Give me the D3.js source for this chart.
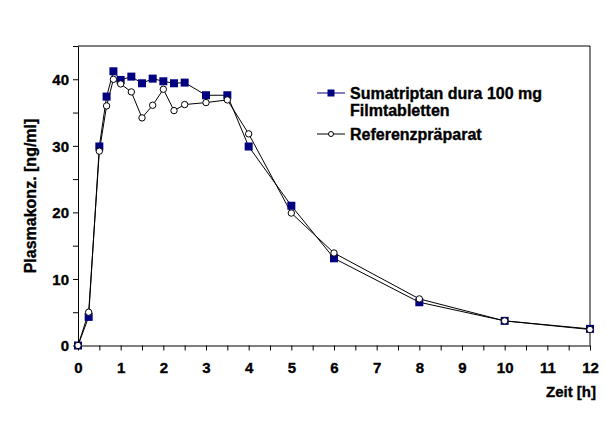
<!DOCTYPE html>
<html>
<head>
<meta charset="utf-8">
<script src="https://cdn.jsdelivr.net/npm/d3@7"></script>
<style>
  body { margin: 0; background: #fff; }
  text { font-family: "Liberation Sans", Arial, sans-serif; font-weight: bold; stroke: #000; stroke-width: 0.35px; }
</style>
</head>
<body>
<div id="chart"></div>
<script>
// time points [h]
var times = [0, 0.25, 0.5, 0.67, 0.83, 1, 1.25, 1.5, 1.75, 2, 2.25, 2.5, 3, 3.5, 4, 5, 6, 8, 10, 12];
// Sumatriptan dura 100 mg Filmtabletten
var testValues = [0, 4.3, 29.9, 37.4, 41.2, 39.9, 40.4, 39.4, 40.1, 39.7, 39.4, 39.5, 37.6, 37.6, 29.9, 21.0, 13.1, 6.5, 3.7, 2.5];
// Referenzpräparat
var refValues = [0, 5.0, 29.2, 36.0, 40.0, 39.3, 38.1, 34.2, 36.1, 38.5, 35.3, 36.2, 36.5, 36.9, 31.8, 19.9, 13.9, 7.0, 3.7, 2.4];

var xTicks = [0, 1, 2, 3, 4, 5, 6, 7, 8, 9, 10, 11, 12];
var yTicks = [0, 10, 20, 30, 40];
var legendLabels = [["Sumatriptan dura 100 mg", "Filmtabletten"], ["Referenzpräparat"]];

var W = 606, H = 427;
var plotL = 78, plotR = 590, plotT = 46, plotB = 345.5;

var svg = d3.select("#chart").append("svg")
  .attr("width", W).attr("height", H)
  .style("display", "block");

var x = d3.scaleLinear().domain([0, 12]).range([plotL, plotR]);
var y = d3.scaleLinear().domain([0, 45]).range([plotB, plotT]);

// plot border (top + right)
svg.append("path")
  .attr("d", "M" + plotL + "," + plotT + "H" + plotR + "V" + plotB)
  .attr("fill", "none").attr("stroke", "#000").attr("stroke-width", 1);

// x axis: minor ticks every 0.5 h, labels on whole hours
var xAxis = svg.append("g").attr("transform", "translate(0," + plotB + ")");
xAxis.call(d3.axisBottom(x).tickValues(d3.range(0, 12.01, 0.5)).tickSize(5).tickSizeOuter(0).tickFormat(""));
xAxis.selectAll(".tick text").remove();
xAxis.selectAll(".tick")
  .filter(function(d) { return xTicks.indexOf(d) >= 0; })
  .append("text")
  .attr("y", 27).attr("text-anchor", "middle")
  .attr("fill", "#000").attr("font-size", 15)
  .text(function(d) { return d; });

// y axis: minor ticks every 5, labels every 10
var yAxis = svg.append("g").attr("transform", "translate(" + plotL + ",0)");
yAxis.call(d3.axisLeft(y).tickValues(d3.range(0, 45.1, 5)).tickSize(5).tickSizeOuter(0).tickFormat(""));
yAxis.selectAll(".tick text").remove();
yAxis.selectAll(".tick")
  .filter(function(d) { return yTicks.indexOf(d) >= 0; })
  .append("text")
  .attr("x", -9).attr("dy", "0.36em").attr("text-anchor", "end")
  .attr("fill", "#000").attr("font-size", 15)
  .text(function(d) { return d; });

svg.selectAll(".domain").attr("stroke", "#000");
svg.selectAll(".tick line").attr("stroke", "#000");

// axis titles
svg.append("text")
  .attr("transform", "translate(36,196) rotate(-90)")
  .attr("text-anchor", "middle").attr("font-size", 16)
  .text("Plasmakonz. [ng/ml]");
svg.append("text")
  .attr("x", 596).attr("y", 397).attr("text-anchor", "end").attr("font-size", 15)
  .text("Zeit [h]");

var line = d3.line()
  .x(function(d) { return x(d[0]); })
  .y(function(d) { return y(d[1]); });

var testData = times.map(function(t, i) { return [t, testValues[i]]; });
var refData = times.map(function(t, i) { return [t, refValues[i]]; });

svg.append("path").datum(testData).attr("d", line)
  .attr("fill", "none").attr("stroke", "#000").attr("stroke-width", 1);
svg.append("path").datum(refData).attr("d", line)
  .attr("fill", "none").attr("stroke", "#000").attr("stroke-width", 1);

var S = 8;
svg.selectAll("rect.test").data(testData).enter().append("rect")
  .attr("class", "test")
  .attr("x", function(d) { return x(d[0]) - S / 2; })
  .attr("y", function(d) { return y(d[1]) - S / 2; })
  .attr("width", S).attr("height", S)
  .attr("fill", "#000080");

svg.selectAll("circle.ref").data(refData).enter().append("circle")
  .attr("class", "ref")
  .attr("cx", function(d) { return x(d[0]); })
  .attr("cy", function(d) { return y(d[1]); })
  .attr("r", 3.2)
  .attr("fill", "#fff").attr("stroke", "#000").attr("stroke-width", 1);

// legend
var lg = svg.append("g");
var lx0 = 317, lx1 = 345, ly = [93, 134];
lg.append("line").attr("x1", lx0).attr("x2", lx1).attr("y1", ly[0]).attr("y2", ly[0])
  .attr("stroke", "#000080");
lg.append("rect").attr("x", (lx0 + lx1) / 2 - 3.5).attr("y", ly[0] - 3.5)
  .attr("width", 7).attr("height", 7).attr("fill", "#000080");
lg.append("line").attr("x1", lx0).attr("x2", lx1).attr("y1", ly[1]).attr("y2", ly[1])
  .attr("stroke", "#000");
lg.append("circle").attr("cx", (lx0 + lx1) / 2).attr("cy", ly[1]).attr("r", 2.5)
  .attr("fill", "#fff").attr("stroke", "#000");

legendLabels.forEach(function(lines, i) {
  lines.forEach(function(s, j) {
    lg.append("text")
      .attr("x", 350).attr("y", ly[i] + 6 + j * 17)
      .attr("font-size", 16)
      .text(s);
  });
});
</script>
</body>
</html>
